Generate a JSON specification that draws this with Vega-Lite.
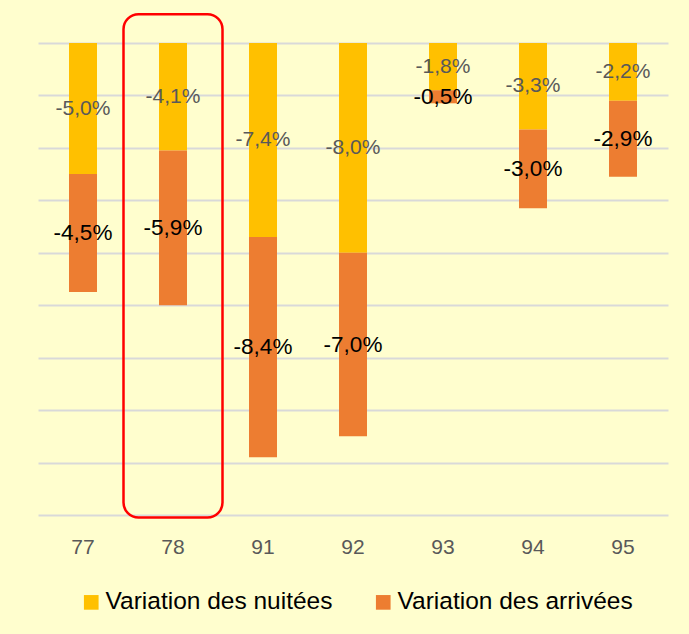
{
  "$schema": "https://vega.github.io/schema/vega-lite/v6.json",
  "width": 630,
  "height": 472,
  "autosize": {"type": "none"},
  "padding": {"left": 38, "top": 43, "right": 21, "bottom": 119},
  "background": "#FFFECE",
  "config": {
    "view": {"stroke": null},
    "font": "Liberation Sans",
    "locale": {
      "number": {"decimal": ",", "thousands": " ", "grouping": [3], "currency": ["", " €"], "minus": "-", "percent": "%"}
    }
  },
  "datasets": {
    "variations": [
      {"dept": "77", "serie": "Variation des nuitées", "ordre": 1, "valeur": -0.050},
      {"dept": "77", "serie": "Variation des arrivées", "ordre": 2, "valeur": -0.045},
      {"dept": "78", "serie": "Variation des nuitées", "ordre": 1, "valeur": -0.041},
      {"dept": "78", "serie": "Variation des arrivées", "ordre": 2, "valeur": -0.059},
      {"dept": "91", "serie": "Variation des nuitées", "ordre": 1, "valeur": -0.074},
      {"dept": "91", "serie": "Variation des arrivées", "ordre": 2, "valeur": -0.084},
      {"dept": "92", "serie": "Variation des nuitées", "ordre": 1, "valeur": -0.080},
      {"dept": "92", "serie": "Variation des arrivées", "ordre": 2, "valeur": -0.070},
      {"dept": "93", "serie": "Variation des nuitées", "ordre": 1, "valeur": -0.018},
      {"dept": "93", "serie": "Variation des arrivées", "ordre": 2, "valeur": -0.005},
      {"dept": "94", "serie": "Variation des nuitées", "ordre": 1, "valeur": -0.033},
      {"dept": "94", "serie": "Variation des arrivées", "ordre": 2, "valeur": -0.030},
      {"dept": "95", "serie": "Variation des nuitées", "ordre": 1, "valeur": -0.022},
      {"dept": "95", "serie": "Variation des arrivées", "ordre": 2, "valeur": -0.029}
    ],
    "encadre": [
      {"dept": "78", "haut": 0.011, "bas": -0.181}
    ]
  },
  "layer": [
    {
      "data": {"name": "variations"},
      "mark": {"type": "bar", "size": 28},
      "encoding": {
        "x": {
          "field": "dept", "type": "nominal", "sort": null,
          "scale": {"paddingInner": 0, "paddingOuter": 0},
          "axis": {
            "title": null, "labelAngle": 0, "domain": false, "ticks": false, "tickSize": 0,
            "grid": false, "labelPadding": 38, "labelBaseline": "alphabetic",
            "labelFontSize": 21, "labelColor": "#595959", "labelFont": "Liberation Sans"
          }
        },
        "y": {
          "field": "valeur", "type": "quantitative", "stack": "zero",
          "scale": {"domain": [-0.18, 0], "nice": false, "zero": false},
          "axis": {
            "title": null, "labels": false, "ticks": false, "domain": false, "grid": true,
            "values": [0, -0.02, -0.04, -0.06, -0.08, -0.10, -0.12, -0.14, -0.16, -0.18],
            "gridColor": "#D9D9D9", "gridWidth": 2
          }
        },
        "color": {
          "field": "serie", "type": "nominal",
          "scale": {"domain": ["Variation des nuitées", "Variation des arrivées"], "range": ["#FFC000", "#ED7D31"]},
          "legend": {
            "orient": "none", "legendX": 41, "legendY": 547, "direction": "horizontal",
            "title": null, "symbolType": "square", "symbolSize": 215, "symbolStrokeWidth": 0,
            "symbolOpacity": 1, "labelFontSize": 24.5, "labelColor": "#000000", "labelFont": "Liberation Sans",
            "labelOffset": 2, "columnPadding": 38, "labelLimit": 400
          }
        },
        "order": {"field": "ordre", "type": "quantitative", "sort": "ascending"}
      }
    },
    {
      "data": {"name": "variations"},
      "transform": [
        {"stack": "valeur", "groupby": ["dept"], "sort": [{"field": "ordre", "order": "ascending"}], "as": ["v0", "v1"]},
        {"calculate": "(datum.v0 + datum.v1) / 2", "as": "milieu"},
        {"filter": "datum.ordre == 1"}
      ],
      "mark": {"type": "text", "fontSize": 21, "color": "#595959", "baseline": "middle", "align": "center"},
      "encoding": {
        "x": {"field": "dept", "type": "nominal", "sort": null},
        "y": {"field": "milieu", "type": "quantitative"},
        "text": {"field": "valeur", "type": "quantitative", "format": ".1%"}
      }
    },
    {
      "data": {"name": "variations"},
      "transform": [
        {"stack": "valeur", "groupby": ["dept"], "sort": [{"field": "ordre", "order": "ascending"}], "as": ["v0", "v1"]},
        {"calculate": "(datum.v0 + datum.v1) / 2", "as": "milieu"},
        {"filter": "datum.ordre == 2"}
      ],
      "mark": {"type": "text", "fontSize": 22.5, "color": "#000000", "baseline": "middle", "align": "center"},
      "encoding": {
        "x": {"field": "dept", "type": "nominal", "sort": null},
        "y": {"field": "milieu", "type": "quantitative"},
        "text": {"field": "valeur", "type": "quantitative", "format": ".1%"}
      }
    },
    {
      "data": {"name": "encadre"},
      "mark": {"type": "bar", "width": {"band": 1.1}, "filled": false, "stroke": "#FF0000", "strokeWidth": 2.5, "cornerRadius": 15},
      "encoding": {
        "x": {"field": "dept", "type": "nominal", "sort": null},
        "y": {"field": "haut", "type": "quantitative"},
        "y2": {"field": "bas"}
      }
    }
  ]
}
